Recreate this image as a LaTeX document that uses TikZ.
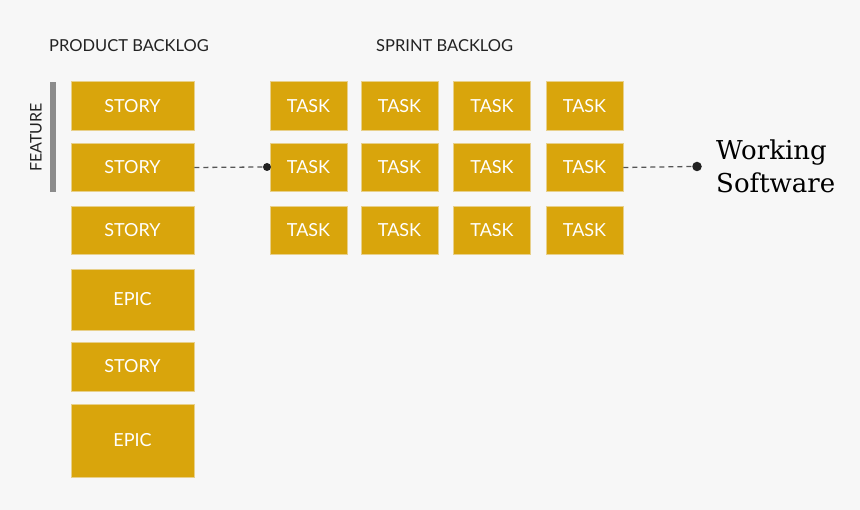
\documentclass[tikz,border=0pt]{standalone}
\usepackage{fontspec}
\setmainfont{Lato}
\newfontfamily\slabfont{DejaVu Serif}
\definecolor{bgc}{HTML}{F7F7F7}
\definecolor{boxc}{HTML}{D9A50C}
\definecolor{boxedge}{HTML}{E8D08A}
\definecolor{txtc}{HTML}{222222}
\definecolor{barc}{HTML}{8C8C8C}
\definecolor{linec}{HTML}{555555}
\begin{document}
\begin{tikzpicture}[x=1pt,y=-1pt,
  card/.style={fill=boxc,draw=boxedge,line width=0.6pt,text=white,font=\fontsize{18}{18}\selectfont,inner sep=0pt},
  header/.style={text=txtc,font=\fontsize{16.5}{17}\selectfont,inner sep=0pt,anchor=base west},
  dotc/.style={circle,fill=txtc,inner sep=0pt},
  link/.style={draw=linec,line width=1.3pt,dash pattern=on 5pt off 4pt}]
\fill[bgc] (0,0) rectangle (860,510);
\useasboundingbox (0,0) rectangle (860,510);
% headers
\node[header] (ph) at (49,52) {PRODUCT BACKLOG};
\node[header] (sh) at (376,52) {SPRINT BACKLOG};
% feature bar
\fill[barc] (50,82) rectangle (56,192);
\node[text=txtc,font=\fontsize{16}{16}\selectfont,rotate=90,inner sep=0pt] (feat) at (36,137.5) {FEATURE};
% product backlog
\node[card,minimum width=123,minimum height=48.5] (s1) at (132.5,106) {STORY};
\node[card,minimum width=123,minimum height=48.5] (s2) at (132.5,167.5) {STORY};
\node[card,minimum width=123,minimum height=48.5] (s3) at (132.5,230.5) {STORY};
\node[card,minimum width=123,minimum height=61] (e1) at (132.5,299.5) {EPIC};
\node[card,minimum width=123,minimum height=49] (s4) at (132.5,366.5) {STORY};
\node[card,minimum width=123,minimum height=73] (e2) at (132.5,440.5) {EPIC};
% sprint backlog
\foreach \c/\x in {1/308.5,2/399.5,3/492,4/584.5}{
  \foreach \r/\y in {1/106,2/167.5,3/230.5}{
    \node[card,minimum width=77,minimum height=48.5] (t\r\c) at (\x,\y) {TASK};
  }
}
% connectors
\node[dotc,minimum size=8] (d1) at (267,167) {};
\node[dotc,minimum size=9.5] (d2) at (697,166.5) {};
\draw[link] (s2.east) -- (d1.west);
\draw[link] (t24.east) -- (d2.west);
\node[anchor=west,text=black,font=\slabfont\fontsize{26}{33}\selectfont,align=left,inner sep=0pt] (ws) at (716,166) {Working\\Software};
\end{tikzpicture}
\end{document}
